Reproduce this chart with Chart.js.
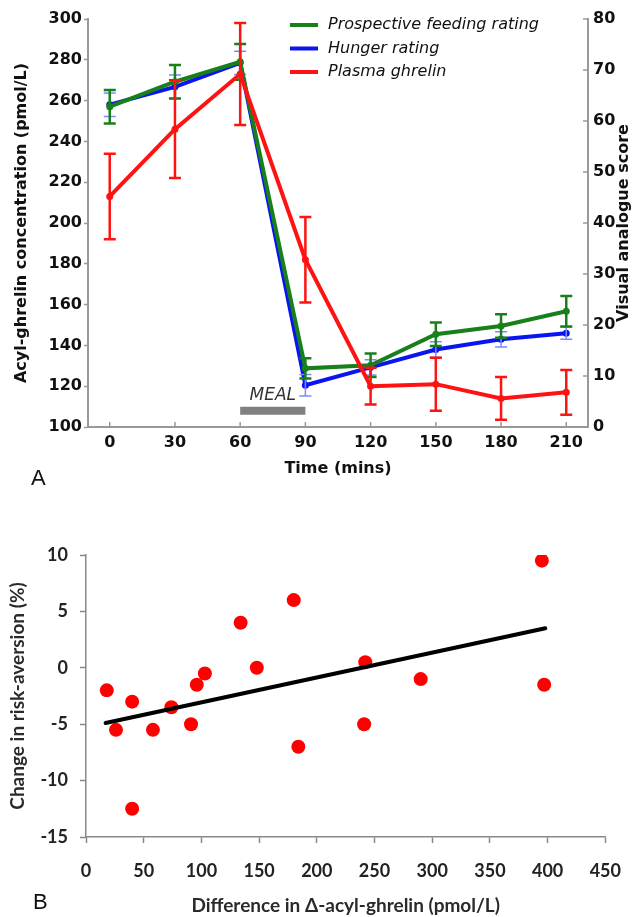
<!DOCTYPE html>
<html>
<head>
<meta charset="utf-8">
<script src="https://cdn.jsdelivr.net/npm/chart.js@4.4.1/dist/chart.umd.min.js"></script>
<style>
  html, body { margin: 0; padding: 0; background: #fff; }
  #wrap { position: relative; width: 638px; height: 917px; }
  #c1 { position: absolute; left: 0; top: 0; }
  #c2 { position: absolute; left: 0; top: 490px; }
  .panel { position: absolute; font-family: "Liberation Sans", Arial, sans-serif; font-size: 22px; color: #111; }
</style>
</head>
<body>
<div id="wrap">
  <canvas id="c1" width="638" height="490"></canvas>
  <canvas id="c2" width="638" height="427"></canvas>
  <div class="panel" style="left:31px; top:465px;">A</div>
  <div class="panel" style="left:33px; top:889px;">B</div>
</div>
<script>
// ---------- Panel A data ----------
const times = [0, 30, 60, 90, 120, 150, 180, 210];
const ghrelin = [213, 246, 273, 182, 120, 121, 114, 117];
const ghrelinErr = [21, 24, 25, 21, 9, 13, 10.5, 11];
const prospective = [62.8, 67.7, 71.6, 11.5, 12.1, 18.2, 19.8, 22.7];
const prospectiveErr = [3.3, 3.3, 3.5, 2, 2.3, 2.3, 2.3, 3];
const hunger = [63.2, 66.7, 71.4, 8.2, 11.7, 15.2, 17.2, 18.4];
const hungerErr = [2.3, 2.3, 2.3, 2.1, 1.5, 1.5, 1.5, 1.2];
const mealRange = [60, 90];
const mealLevel = 108;
const seriesNames = ['Prospective feeding rating', 'Hunger rating', 'Plasma ghrelin'];
const leftTitle = 'Acyl-ghrelin concentration (pmol/L)';
const rightTitle = 'Visual analogue score';
const timeTitle = 'Time (mins)';

// ---------- Panel B data ----------
const acylDiff = [18, 26, 40, 40, 58, 74, 91, 96, 103, 134, 148, 180, 184, 242, 241, 290, 395, 397];
const riskChange = [-2, -5.5, -3, -12.5, -5.5, -3.5, -5, -1.5, -0.5, 4, 0, 6, -7, 0.5, -5, -1, 9.5, -1.5];
const trendX = [17, 398];
const trendY = [-4.9, 3.5];

const GREEN = '#17801b', BLUE = '#0a14f0', RED = '#ff1212';
const AX = '#999999';
const FA = '"DejaVu Sans", sans-serif';
const FB = 'Lato, "Open Sans", sans-serif';

const pts = (xs, ys) => xs.map((x, i) => ({ x: x, y: ys[i] }));

// error bars plugin (drawn right after each dataset)
const errorBars = {
  id: 'errorBars',
  afterDatasetDraw(chart, args) {
    const ds = chart.data.datasets[args.index];
    if (!ds.errors) return;
    const meta = chart.getDatasetMeta(args.index);
    const sc = chart.scales[ds.yAxisID];
    const ctx = chart.ctx;
    ctx.save();
    ctx.strokeStyle = ds.errorColor;
    ctx.lineWidth = ds.errorWidth;
    meta.data.forEach((p, j) => {
      const v = ds.data[j].y, e = ds.errors[j];
      const yt = sc.getPixelForValue(v + e), yb = sc.getPixelForValue(v - e);
      ctx.beginPath();
      ctx.moveTo(p.x, yt); ctx.lineTo(p.x, yb);
      ctx.moveTo(p.x - ds.capHalf, yt); ctx.lineTo(p.x + ds.capHalf, yt);
      ctx.moveTo(p.x - ds.capHalf, yb); ctx.lineTo(p.x + ds.capHalf, yb);
      ctx.stroke();
    });
    ctx.restore();
  }
};

// inside ticks, right title, legend and MEAL label for panel A
const panelADecor = {
  id: 'panelADecor',
  afterDraw(chart) {
    const ctx = chart.ctx;
    const xs = chart.scales.x, y1 = chart.scales.y1;
    const area = chart.chartArea;
    ctx.save();
    ctx.strokeStyle = AX; ctx.lineWidth = 1.5;
    xs.ticks.forEach(t => {
      const px = xs.getPixelForValue(t.value);
      ctx.beginPath(); ctx.moveTo(px, area.bottom); ctx.lineTo(px, area.bottom - 5); ctx.stroke();
    });
    y1.ticks.forEach(t => {
      const py = y1.getPixelForValue(t.value);
      ctx.beginPath(); ctx.moveTo(area.right, py); ctx.lineTo(area.right - 5, py); ctx.stroke();
    });
    // right axis title, reading bottom to top
    ctx.save();
    ctx.translate(y1.right - 14, (area.top + area.bottom) / 2);
    ctx.rotate(-Math.PI / 2);
    ctx.fillStyle = '#111';
    ctx.font = 'bold 16px ' + FA;
    ctx.textAlign = 'center'; ctx.textBaseline = 'middle';
    ctx.fillText(rightTitle, 0, 0);
    ctx.restore();
    // MEAL label
    const meal = chart.data.datasets.find(d => d.isMeal);
    const ys = chart.scales.y;
    const mx = xs.getPixelForValue((mealRange[0] + mealRange[1]) / 2);
    const my = ys.getPixelForValue(mealLevel);
    ctx.fillStyle = '#333';
    ctx.font = 'italic 17px ' + FA;
    ctx.textAlign = 'center'; ctx.textBaseline = 'middle';
    ctx.fillText(meal.label, mx, my - 15);
    // legend
    const items = [
      { name: seriesNames[0], color: GREEN },
      { name: seriesNames[1], color: BLUE },
      { name: seriesNames[2], color: RED }
    ];
    ctx.font = 'italic 16px ' + FA;
    ctx.textAlign = 'left';
    items.forEach((it, i) => {
      const ly = 25 + i * 23.5;
      ctx.strokeStyle = it.color; ctx.lineWidth = 4;
      ctx.beginPath(); ctx.moveTo(290, ly); ctx.lineTo(318, ly); ctx.stroke();
      ctx.fillStyle = '#111';
      ctx.fillText(it.name, 328, ly);
    });
    ctx.restore();
  }
};

const lineDs = (label, xs, ys, errs, color, axis, order, errColor, errWidth, capHalf) => ({
  type: 'line', label: label, data: pts(xs, ys), errors: errs,
  borderColor: color, backgroundColor: color, borderWidth: 4,
  pointRadius: 3.5, pointBackgroundColor: color, pointBorderWidth: 0,
  tension: 0, yAxisID: axis, order: order, clip: false,
  errorColor: errColor, errorWidth: errWidth, capHalf: capHalf
});

new Chart(document.getElementById('c1'), {
  type: 'line',
  data: {
    datasets: [
      lineDs(seriesNames[2], times, ghrelin, ghrelinErr, RED, 'y', 1, RED, 2.5, 6),
      lineDs(seriesNames[0], times, prospective, prospectiveErr, GREEN, 'y1', 2, GREEN, 2.5, 6),
      lineDs(seriesNames[1], times, hunger, hungerErr, BLUE, 'y1', 3, '#7d88ff', 1.5, 6),
      {
        type: 'line', label: 'MEAL', isMeal: true,
        data: pts(mealRange, [mealLevel, mealLevel]),
        borderColor: '#808080', borderWidth: 8, borderCapStyle: 'butt',
        pointRadius: 0, yAxisID: 'y', order: 4
      }
    ]
  },
  options: {
    responsive: false, animation: false, devicePixelRatio: 1,
    layout: { padding: { left: 8, right: 0, top: 19, bottom: 8 } },
    plugins: { legend: { display: false }, tooltip: { enabled: false } },
    scales: {
      x: {
        type: 'linear', min: -10, max: 220,
        afterBuildTicks: s => { s.ticks = times.map(v => ({ value: v })); },
        afterFit: s => { s.height = 55; },
        grid: { drawOnChartArea: false, drawTicks: false },
        border: { color: AX, width: 2 },
        ticks: { font: { family: FA, size: 16, weight: 'bold' }, color: '#111', padding: 6, maxRotation: 0 },
        title: { display: true, text: timeTitle, font: { family: FA, size: 16, weight: 'bold' }, color: '#111', padding: { top: 0, bottom: 4 } }
      },
      y: {
        position: 'left', min: 100, max: 300,
        afterFit: s => { s.width = 80; },
        grid: { drawOnChartArea: false, tickLength: 4, tickColor: AX, tickWidth: 1.5 },
        border: { color: AX, width: 2 },
        ticks: { stepSize: 20, font: { family: FA, size: 16, weight: 'bold' }, color: '#111', padding: 2 },
        title: { display: true, text: leftTitle, font: { family: FA, size: 16, weight: 'bold' }, color: '#111', padding: { top: 4, bottom: 4 } }
      },
      y1: {
        position: 'right', min: 0, max: 80,
        afterFit: s => { s.width = 50; },
        grid: { drawOnChartArea: false, drawTicks: false },
        border: { color: AX, width: 2 },
        ticks: { stepSize: 10, font: { family: FA, size: 16, weight: 'bold' }, color: '#111', padding: 5 },
        title: { display: false }
      }
    }
  },
  plugins: [errorBars, panelADecor]
});

// ---------- Panel B ----------
const BX = '#888888';
new Chart(document.getElementById('c2'), {
  type: 'scatter',
  data: {
    datasets: [
      {
        type: 'line', label: 'Trend', data: pts(trendX, trendY),
        borderColor: '#000', borderWidth: 4, pointRadius: 0, tension: 0, order: 1,
        borderCapStyle: 'round'
      },
      {
        type: 'scatter', label: 'Participants', data: pts(acylDiff, riskChange),
        backgroundColor: '#ff0000', borderWidth: 0, pointRadius: 7, order: 2
      }
    ]
  },
  options: {
    responsive: false, animation: false, devicePixelRatio: 1,
    layout: { padding: { left: 3, right: 24, top: 65, bottom: 0 } },
    plugins: { legend: { display: false }, tooltip: { enabled: false } },
    scales: {
      x: {
        type: 'linear', min: 0, max: 450,
        afterFit: s => { s.height = 80; },
        grid: { drawOnChartArea: false, tickLength: 6, tickColor: BX, tickWidth: 1.5 },
        border: { color: BX, width: 1.5 },
        ticks: { stepSize: 50, font: { family: FB, size: 18, weight: 'bold' }, color: '#222', padding: 17, maxRotation: 0 },
        title: { display: true, text: 'Difference in \u0394-acyl-ghrelin (pmol/L)', font: { family: FB, size: 19, weight: 'bold' }, color: '#2a2a2a', padding: { top: 0, bottom: 0 } }
      },
      y: {
        min: -15, max: 10,
        afterFit: s => { s.width = 83; },
        grid: { drawOnChartArea: false, tickLength: 6, tickColor: BX, tickWidth: 1.5 },
        border: { color: BX, width: 1.5 },
        ticks: { stepSize: 5, font: { family: FB, size: 18, weight: 'bold' }, color: '#222', padding: 12 },
        title: { display: true, text: 'Change in risk-aversion (%)', font: { family: FB, size: 19, weight: 'bold' }, color: '#2a2a2a', padding: { top: 3, bottom: 4 } }
      }
    }
  }
});
</script>
</body>
</html>
